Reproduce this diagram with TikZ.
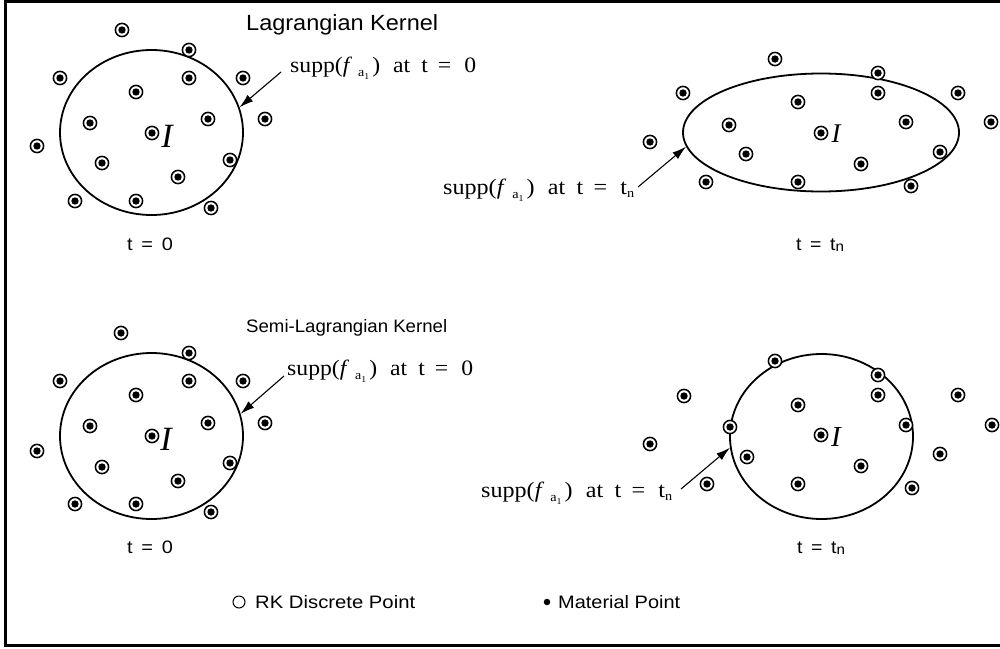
\documentclass[tikz,border=0pt]{standalone}
\usepackage{fontspec}
\setmainfont{Liberation Serif}
\newfontfamily\arialf{Liberation Sans}
\usetikzlibrary{shapes.geometric,arrows.meta}
\newcommand\fitw[2]{\resizebox{#1}{\height}{#2}}
\newcommand\supplabel[2]{\fitw{#1}{\fontsize{22}{24}\selectfont supp(\textit{f}\hspace{5.6pt}\raisebox{-4pt}{\fontsize{13}{13}\selectfont a}\raisebox{-7pt}{\fontsize{9}{9}\selectfont 1}\hspace{2.8pt})\hspace{12.1pt}at\hspace{10.3pt}t\hspace{9.3pt}=\hspace{12.1pt}#2}}
\newcommand\sanstxt[3]{\fitw{#2}{\arialf\fontsize{#1}{#1}\selectfont #3}}
\newcommand\tnsub{t\raisebox{-3pt}{\fontsize{13}{13}\selectfont n}}
\begin{document}
\begin{tikzpicture}[x=1pt,y=-1pt,
  rkpt/.style={circle,draw=black,line width=1.5pt,fill=white,minimum size=13.2pt,inner sep=0pt,
    path picture={\fill[black] (path picture bounding box.center) circle (3.7pt);}},
  supp/.style={ellipse,draw=black,line width=1.8pt,inner sep=0pt},
  lbl/.style={inner sep=0pt},
  ptr/.style={draw=black,line width=1.1pt,-{Latex[length=14pt,width=8.5pt,fill=black]}},
  bigI/.style={inner sep=0pt}]
\useasboundingbox (0,0) rectangle (1000,648);
\draw[line width=3pt] (5.5,1.5) rectangle (1010,645.5);

% ---------- top-left
\node[supp,minimum width=183pt,minimum height=165pt] (e1) at (151.5,132.5) {};
\foreach \x/\y [count=\i] in {122/30,189/50,60/78,189/78,243/78,136/92,90/123,208/119,265/119,152/133,37/146,230/160,102/163,178/177,75/201,136/201,211/208}
  \node[rkpt] (tl\i) at (\x,\y) {};
\node[bigI] (i1) at (167,136) {\fontsize{34}{34}\selectfont\itshape I};
\node[lbl,anchor=base west] (k1) at (246,30) {\sanstxt{22}{192pt}{Lagrangian Kernel}};
\node[lbl,anchor=base west] (s1) at (290,72) {\supplabel{186pt}{0}};
\coordinate (a1) at (281,72);
\draw[ptr] (a1) -- (e1.16.8);
\node[lbl,anchor=base] (t1) at (150,250) {\sanstxt{18}{46pt}{t\hspace{8pt}=\hspace{8pt}0}};

% ---------- top-right
\node[supp,minimum width=276pt,minimum height=118pt] (e2) at (821,132.5) {};
\foreach \x/\y [count=\i] in {775/59,878/73,683/93,878/93,958/93,798/102,729/125,906/122,991/122,821/133,650/142,746/154,940/152,861/164,706/182,798/182,911/186}
  \node[rkpt] (tr\i) at (\x,\y) {};
\node[bigI] (i2) at (836,134) {\fontsize{27}{27}\selectfont\itshape I};
\node[lbl,anchor=base west] (s2) at (443,194) {\supplabel{191pt}{\tnsub}};
\coordinate (a2) at (638,187);
\draw[ptr] (a2) -- (e2.186);
\node[lbl,anchor=base] (t2) at (820,250) {\sanstxt{18}{48pt}{t\hspace{8pt}=\hspace{8pt}t\raisebox{-1pt}{\fontsize{14}{14}\selectfont n}}};

% ---------- bottom-left
\node[supp,minimum width=183pt,minimum height=166pt] (e3) at (151.5,436) {};
\foreach \x/\y [count=\i] in {121/333,189/353,60/381,189/381,243/381,136/395,90/426,208/423,265/423,152/436,37/451,230/463,102/467,178/481,75/504,136/504,211/512}
  \node[rkpt] (bl\i) at (\x,\y) {};
\node[bigI] (i3) at (166,439) {\fontsize{34}{34}\selectfont\itshape I};
\node[lbl,anchor=base west] (k2) at (246,332) {\sanstxt{18}{201pt}{Semi-Lagrangian Kernel}};
\node[lbl,anchor=base west] (s3) at (287,375) {\supplabel{186pt}{0}};
\coordinate (a3) at (284,376);
\draw[ptr] (a3) -- (e3.14.4);
\node[lbl,anchor=base] (t3) at (150,553) {\sanstxt{18}{46pt}{t\hspace{8pt}=\hspace{8pt}0}};

% ---------- bottom-right
\node[supp,minimum width=183pt,minimum height=165pt] (e4) at (821.5,436.5) {};
\foreach \x/\y [count=\i] in {775/361,878/375,684/396,878/395,958/395,798/405,730/427,906/425,992/425,821/435,650/444,747/457,940/454,861/466,707/484,798/484,912/488}
  \node[rkpt] (br\i) at (\x,\y) {};
\node[bigI] (i4) at (836,437) {\fontsize{29}{29}\selectfont\itshape I};
\node[lbl,anchor=base west] (s4) at (481,497) {\supplabel{191pt}{\tnsub}};
\coordinate (a4) at (681,489);
\draw[ptr] (a4) -- (e4.187.6);
\node[lbl,anchor=base] (t4) at (821,553) {\sanstxt{18}{48pt}{t\hspace{8pt}=\hspace{8pt}t\raisebox{-1pt}{\fontsize{14}{14}\selectfont n}}};

% ---------- legend
\node[circle,draw=black,line width=1pt,minimum size=12pt,inner sep=0pt] (lg1) at (239,602) {};
\node[lbl,anchor=base west] (lt1) at (255,608) {\sanstxt{18}{160pt}{RK Discrete Point}};
\node[circle,fill=black,minimum size=6.5pt,inner sep=0pt] (lg2) at (547,602) {};
\node[lbl,anchor=base west] (lt2) at (558,608) {\sanstxt{18}{122pt}{Material Point}};
\end{tikzpicture}
\end{document}
